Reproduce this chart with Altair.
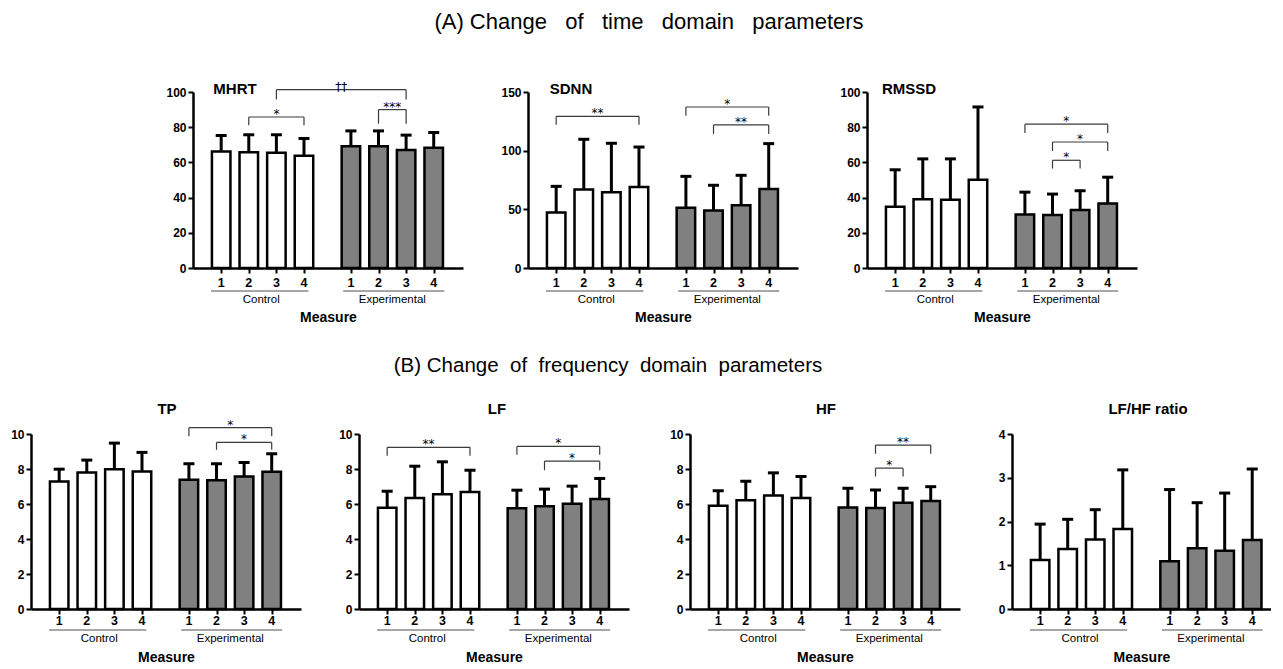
import altair as alt
import pandas as pd

# ---------------- data ----------------
measure_labels = ["1", "2", "3", "4"]
groups = ["Control", "Experimental"]
bar_pos = [1, 2, 3, 4, 5.7, 6.7, 7.7, 8.7]
group_center = [2.45, 7.2]
underline_start = [0.63, 5.42]
underline_end = [4.16, 9.08]
group_colors = ["#ffffff", "#808080"]

# means (Control 1-4, Experimental 1-4) and SD (upper whisker length)
mhrt_mean = [66.2, 65.8, 65.5, 63.8, 69.2, 69.2, 67.0, 68.3]
mhrt_sd = [9.1, 9.9, 10.2, 9.8, 8.7, 8.7, 8.5, 8.7]
sdnn_mean = [47.4, 67.0, 64.5, 69.0, 51.4, 48.9, 53.4, 67.3]
sdnn_sd = [22.2, 42.7, 41.8, 34.1, 26.7, 21.6, 25.6, 38.7]
rmssd_mean = [34.8, 39.1, 38.8, 50.1, 30.4, 30.1, 32.9, 36.6]
rmssd_sd = [21.0, 22.9, 23.2, 41.4, 12.7, 11.9, 11.0, 15.0]
tp_mean = [7.28, 7.80, 7.99, 7.86, 7.38, 7.36, 7.57, 7.84]
tp_sd = [0.71, 0.71, 1.49, 1.09, 0.92, 0.94, 0.80, 1.03]
lf_mean = [5.79, 6.35, 6.56, 6.69, 5.76, 5.87, 6.02, 6.29]
lf_sd = [0.94, 1.81, 1.85, 1.24, 1.03, 0.98, 1.00, 1.17]
hf_mean = [5.90, 6.21, 6.48, 6.34, 5.80, 5.77, 6.07, 6.17]
hf_sd = [0.86, 1.09, 1.30, 1.23, 1.10, 1.03, 0.83, 0.82]
lfhf_mean = [1.12, 1.37, 1.59, 1.83, 1.09, 1.39, 1.33, 1.58]
lfhf_sd = [0.82, 0.68, 0.68, 1.35, 1.64, 1.04, 1.32, 1.62]

# significance brackets: from bar, to bar, bracket level, end level, label
mhrt_br = ([1, 2, 5], [3, 6, 6], [85.8, 101.3, 90.0], [81.1, 95.7, 82.0], ["*", "\u2020\u2020", "***"])
sdnn_br = ([0, 4, 5], [3, 7, 7], [129.3, 137.2, 121.9], [122.0, 129.8, 114.2], ["**", "*", "**"])
rmssd_br = ([4, 5, 5], [7, 7, 6], [81.7, 71.6, 61.2], [76.7, 66.5, 56.5], ["*", "*", "*"])
tp_br = ([4, 5], [7, 7], [10.36, 9.52], [9.87, 9.10], ["*", "*"])
lf_br = ([0, 4, 5], [3, 7, 7], [9.24, 9.29, 8.45], [8.76, 8.81, 7.93], ["**", "*", "*"])
hf_br = ([5, 5], [7, 6], [9.37, 8.05], [8.87, 7.57], ["**", "*"])
lfhf_br = ([], [], [], [], [])

FONT = "Liberation Sans"
PX_PER_UNIT = 270 / 9.42


def panel(title, means, sds, br, ymax, yticks, height, xmax, tx, ty, offs, section=None):
    width = round((xmax - 0.16) * PX_PER_UNIT)
    xs = alt.Scale(domain=[0.16, xmax], nice=False, zero=False)
    ys = alt.Scale(domain=[0, ymax], nice=False, zero=False)
    xax = alt.Axis(values=bar_pos, labels=False, grid=False, domainColor="black",
                   domainWidth=2.5, tickColor="black", tickWidth=2, tickSize=5,
                   title="Measure", titleFont=FONT, titleFontSize=14,
                   titleFontWeight="bold", titleColor="black",
                   titlePadding=offs["tpad"])
    yax = alt.Axis(values=yticks, grid=False, domainColor="black", domainWidth=2.5,
                   tickColor="black", tickWidth=2, tickSize=5, labelFont=FONT,
                   labelFontSize=12, labelFontWeight="bold", labelColor="black",
                   labelPadding=2, title=None)

    bars = pd.DataFrame({
        "pos": bar_pos, "mean": means, "sd": sds,
        "group": [g for g in groups for _ in range(4)],
        "label": measure_labels * 2,
    })
    bars["top"] = bars["mean"] + bars["sd"]
    grp = pd.DataFrame({"center": group_center, "start": underline_start,
                        "end": underline_end, "group": groups})

    layers = []
    layers.append(alt.Chart(bars).mark_bar(orient="vertical", size=18.5, stroke="black",
                                           strokeWidth=2.5).encode(
        x=alt.X("pos:Q", scale=xs, axis=xax),
        y=alt.Y("mean:Q", scale=ys, axis=yax),
        color=alt.Color("group:N", scale=alt.Scale(domain=groups, range=group_colors), legend=None),
    ))
    layers.append(alt.Chart(bars).mark_rule(color="black", strokeWidth=3).encode(
        x=alt.X("pos:Q", scale=xs, axis=xax),
        y=alt.Y("mean:Q", scale=ys, axis=yax), y2="top"))
    layers.append(alt.Chart(bars).mark_tick(orient="horizontal", size=11, thickness=3,
                                            color="black", opacity=1).encode(
        x=alt.X("pos:Q", scale=xs, axis=xax),
        y=alt.Y("top:Q", scale=ys, axis=yax)))
    layers.append(alt.Chart(bars).mark_text(font=FONT, fontSize=12.5, fontWeight="bold",
                                            color="black", baseline="middle").encode(
        x=alt.X("pos:Q", scale=xs, axis=xax), y=alt.value(height + offs["lab"]),
        text="label:N"))
    layers.append(alt.Chart(grp).mark_rule(color="#8a8a8a", strokeWidth=1.5).encode(
        x=alt.X("start:Q", scale=xs, axis=xax), x2="end",
        y=alt.value(height + offs["line"])))
    layers.append(alt.Chart(grp).mark_text(font=FONT, fontSize=11.5, color="black",
                                           baseline="middle").encode(
        x=alt.X("center:Q", scale=xs, axis=xax), y=alt.value(height + offs["grp"]),
        text="group:N"))

    if len(br[0]) > 0:
        bh = pd.DataFrame({
            "x1": [bar_pos[i] for i in br[0]], "x2": [bar_pos[i] for i in br[1]],
            "y": br[2], "label": br[4]})
        bh["xm"] = (bh["x1"] + bh["x2"]) / 2
        bv = pd.DataFrame({
            "x": [bar_pos[i] for i in br[0]] + [bar_pos[i] for i in br[1]],
            "y": list(br[2]) * 2, "y2": list(br[3]) * 2})
        layers.append(alt.Chart(bh).mark_rule(color="#3a3a3a", strokeWidth=1.2).encode(
            x=alt.X("x1:Q", scale=xs, axis=xax), x2="x2",
            y=alt.Y("y:Q", scale=ys, axis=yax)))
        layers.append(alt.Chart(bv).mark_rule(color="#3a3a3a", strokeWidth=1.2).encode(
            x=alt.X("x:Q", scale=xs, axis=xax),
            y=alt.Y("y:Q", scale=ys, axis=yax), y2="y2"))
        layers.append(alt.Chart(bh).mark_text(font="DejaVu Sans", fontSize=12, color="black",
                                              baseline="alphabetic", dy=1).encode(
            x=alt.X("xm:Q", scale=xs, axis=xax),
            y=alt.Y("y:Q", scale=ys, axis=yax), text="label:N"))

    one = pd.DataFrame({"t": [title]})
    layers.append(alt.Chart(one).mark_text(font=FONT, fontSize=15, fontWeight="bold",
                                           color="black", baseline="middle").encode(
        x=alt.value(tx), y=alt.value(ty), text="t:N"))
    if section is not None:
        sec = pd.DataFrame({"s": [section[0]]})
        layers.append(alt.Chart(sec).mark_text(font=FONT, fontSize=section[3],
                                               color="black", baseline="middle").encode(
            x=alt.value(section[1]), y=alt.value(section[2]), text="s:N"))
    return alt.layer(*layers).properties(width=width, height=height)


dummy = pd.DataFrame({"d": [0]})


def spacer(w, h):
    return alt.Chart(dummy).mark_point(opacity=0, size=1).encode(
        x=alt.value(0), y=alt.value(0)).properties(width=w, height=h)


HA, HB = 176, 175
offA = {"lab": 14.5, "line": 23, "grp": 32, "tpad": 36}
offB = {"lab": 12, "line": 21, "grp": 30, "tpad": 35}

sp3 = "\u00a0\u00a0 "
sp2 = "\u00a0 "
titleA = "(A) Change" + sp3 + "of" + sp3 + "time" + sp3 + "domain" + sp3 + "parameters"
titleB = "(B) Change" + sp2 + "of" + sp2 + "frequency" + sp2 + "domain" + sp2 + "parameters"

mhrt = panel("MHRT", mhrt_mean, mhrt_sd, mhrt_br, 100, [0, 20, 40, 60, 80, 100], HA, 9.58,
             42, -3, offA, section=(titleA, 456, -70.5, 22))
sdnn = panel("SDNN", sdnn_mean, sdnn_sd, sdnn_br, 150, [0, 50, 100, 150], HA, 9.58,
             43, -3, offA)
rmssd = panel("RMSSD", rmssd_mean, rmssd_sd, rmssd_br, 100, [0, 20, 40, 60, 80, 100], HA, 9.58,
              42, -3, offA)
tp = panel("TP", tp_mean, tp_sd, tp_br, 10, [0, 2, 4, 6, 8, 10], HB, 9.58,
           136, -25.5, offB, section=(titleB, 577, -68, 20.5))
lf = panel("LF", lf_mean, lf_sd, lf_br, 10, [0, 2, 4, 6, 8, 10], HB, 9.58,
           138, -25.5, offB)
hf = panel("HF", hf_mean, hf_sd, hf_br, 10, [0, 2, 4, 6, 8, 10], HB, 9.58,
           136, -25.5, offB)
lfhf = panel("LF/HF ratio", lfhf_mean, lfhf_sd, lfhf_br, 4, [0, 1, 2, 3, 4], HB, 9.2,
             136, -25.5, offB)

rowA = alt.hconcat(spacer(162, HA), mhrt, spacer(65, HA), sdnn, spacer(69, HA), rmssd,
                   spacing=0, bounds="flush")
rowB = alt.hconcat(tp, spacer(58, HB), lf, spacer(61, HB), hf, spacer(52, HB), lfhf,
                   spacing=0, bounds="flush")

chart = alt.vconcat(rowA, rowB, spacing=342, bounds="flush").properties(
    padding={"left": 2, "top": 2, "right": 0, "bottom": 0},
).configure_view(strokeWidth=0)

chart.save("out.html", embed_options={"renderer": "svg", "actions": False})
